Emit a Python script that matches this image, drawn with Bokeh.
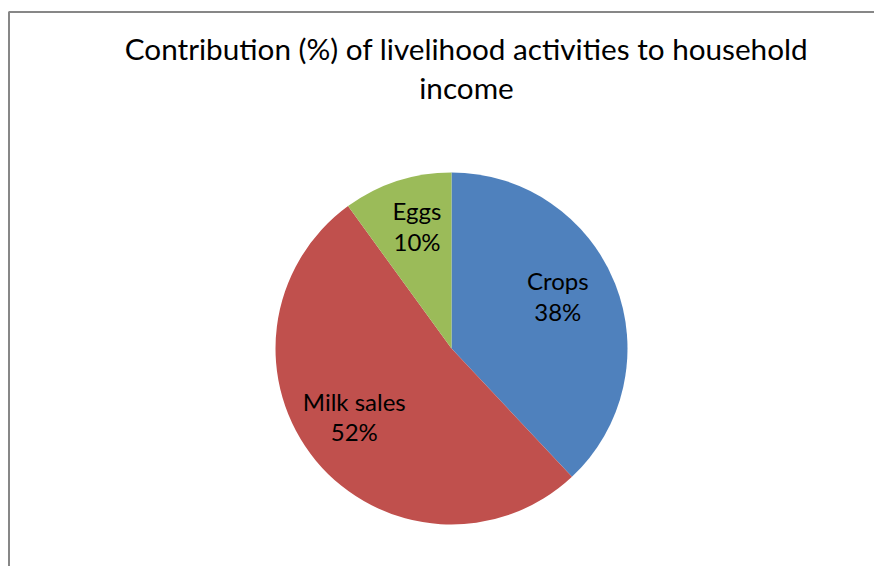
import numpy as np
from bokeh.plotting import figure
from bokeh.models import Range1d, ColumnDataSource
from bokeh.core.properties import value
from bokeh.embed import file_html
from bokeh.resources import INLINE

# ---- data ----
categories = ["Crops", "Milk sales", "Eggs"]
shares = [38, 52, 10]
colors = ["#4F81BD", "#C0504D", "#9BBB59"]
title_lines = ["Contribution (%) of livelihood activities to household", "income"]

FONT = "Lato"
W, H = 874, 566
p = figure(width=W, height=H, output_backend="svg", toolbar_location=None,
           x_range=Range1d(0, W), y_range=Range1d(0, H), min_border=0)
p.axis.visible = False
p.grid.visible = False
p.outline_line_color = None
p.background_fill_color = "white"

# chart frame (only its left and top edges are inside the crop)
FL, FT = 8.5, H - 11.5
p.line(x=[FL, FL, W + 5], y=[-5, FT, FT], line_color="#878787", line_width=2)

cx, cy, r = 451, 218, 176
vals = np.array(shares, dtype=float)
frac = vals / vals.sum()
cum = np.concatenate([[0], np.cumsum(frac)])
start = np.pi / 2 - cum[:-1] * 2 * np.pi
end = np.pi / 2 - cum[1:] * 2 * np.pi
mid = (start + end) / 2

src = ColumnDataSource(dict(start=start, end=end, color=colors))
p.wedge(x=cx, y=cy, radius=r, start_angle="start", end_angle="end",
        direction="clock", fill_color="color", line_color=None, source=src)

# label placement: along each slice's bisector, with small layout nudges
lr = 0.68 * r
nudge_x = np.array([-5.0, -5.0, 2.5])
nudge_y = 8.5
labels = [f"{c}\n{s}%" for c, s in zip(categories, shares)]
lsrc = ColumnDataSource(dict(x=cx + lr * np.cos(mid) + nudge_x,
                             y=cy + lr * np.sin(mid) + nudge_y, t=labels))
p.text(x="x", y="y", text="t", source=lsrc, text_align="center", text_baseline="middle",
       text_font=value(FONT), text_font_size="24px", text_color="black", text_line_height=1.05)

tsrc = ColumnDataSource(dict(x=[466, 466], y=[H - 48.4, H - 87.4], t=title_lines))
p.text(x="x", y="y", text="t", source=tsrc, text_align="center", text_baseline="middle",
       text_font=value(FONT), text_font_size="29.7px", text_color="black")

open("out.html", "w").write(file_html(p, INLINE))
